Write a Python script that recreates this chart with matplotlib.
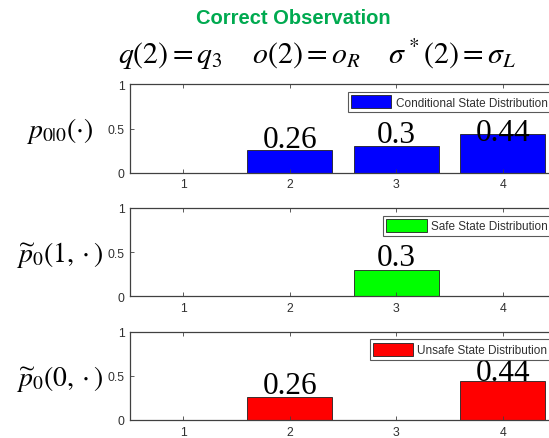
import matplotlib
matplotlib.use("Agg")
import matplotlib.pyplot as plt

plt.rcParams['mathtext.fontset'] = 'stix'

states = [1, 2, 3, 4]
cond_vals = [0, 0.26, 0.3, 0.44]
safe_vals = [0, 0, 0.3, 0]
unsafe_vals = [0, 0.26, 0, 0.44]

panel_vals = [cond_vals, safe_vals, unsafe_vals]
panel_colors = ['#0000ff', '#00ff00', '#ff0000']
panel_legends = ['Conditional State Distribution', 'Safe State Distribution', 'Unsafe State Distribution']
panel_ylabels = [r'$p_{0|0}(\cdot)$', r'$\widetilde{p}_0(1,\cdot)$', r'$\widetilde{p}_0(0,\cdot)$']
label_offsets = [[0, 0.03, 0.045, -0.075], [0, 0, 0.058, 0], [0, 0.045, 0, 0.01]]
label_texts = [['', '0.26', '0.3', '0.44'], ['', '', '0.3', ''], ['', '0.26', '', '0.44']]

W, H = 549, 439
fig = plt.figure(figsize=(W / 100, H / 100), dpi=100)

boxes = [(85.3, 173.7), (209, 297.3), (332.7, 421)]
left_px, right_px = 130, 556

axis_col = '#404040'
for i, (top, bot) in enumerate(boxes):
    ax = fig.add_axes([left_px / W, 1 - bot / H, (right_px - left_px) / W, (bot - top) / H])
    vals = panel_vals[i]
    ax.bar(states, vals, width=0.8, color=panel_colors[i], edgecolor='#202020', linewidth=0.6,
           label=panel_legends[i])
    ax.set_xlim(0.5, 4.5)
    ax.set_ylim(0, 1)
    ax.set_xticks(states)
    ax.set_yticks([0, 0.5, 1])
    ax.set_yticklabels(['0', '0.5', '1'])
    ax.tick_params(direction='in', length=3, width=0.6, colors=axis_col, labelsize=8.8,
                   top=True, right=True, pad=4)
    for lab in ax.get_xticklabels() + ax.get_yticklabels():
        lab.set_family(['Liberation Sans', 'DejaVu Sans'])
        lab.set_color('#303030')
    for sp in ax.spines.values():
        sp.set_color(axis_col)
        sp.set_linewidth(0.9)
    for x, v, t, off in zip(states, vals, label_texts[i], label_offsets[i]):
        if t:
            ax.text(x, v + off, t, ha='center', va='baseline', fontsize=22.5,
                    family=['Liberation Serif', 'DejaVu Serif'], color='black')
    leg = ax.legend(loc='upper right', bbox_to_anchor=(551 / W, 1 - (top + 7.5) / H),
                    bbox_transform=fig.transFigure,
                    prop={'family': ['Liberation Sans', 'DejaVu Sans'], 'size': 8.5},
                    frameon=True, fancybox=False, handlelength=3.4, handleheight=1.3,
                    borderpad=0.3, handletextpad=0.35, borderaxespad=0.0)
    leg.get_frame().set_edgecolor('#303030')
    leg.get_frame().set_linewidth(0.8)
    for txt in leg.get_texts():
        txt.set_color('#303030')
    fig.text(60 / W, 1 - ((top + bot) / 2 + 2) / H, panel_ylabels[i], ha='center', va='center',
             fontsize=20, color='black')

fig.text(293.5 / W, 1 - 18 / H, 'Correct Observation', ha='center', va='center', fontsize=14.5,
         fontweight='bold', color='#00aa50', family=['Liberation Sans', 'DejaVu Sans'])
fig.text(317 / W, 1 - 55 / H, r'$q(2)=q_3\quad\ o(2)=o_R\quad\ \sigma^*(2)=\sigma_L$',
         ha='center', va='center', fontsize=21.5, color='black')

fig.savefig('out.png', dpi=100)
